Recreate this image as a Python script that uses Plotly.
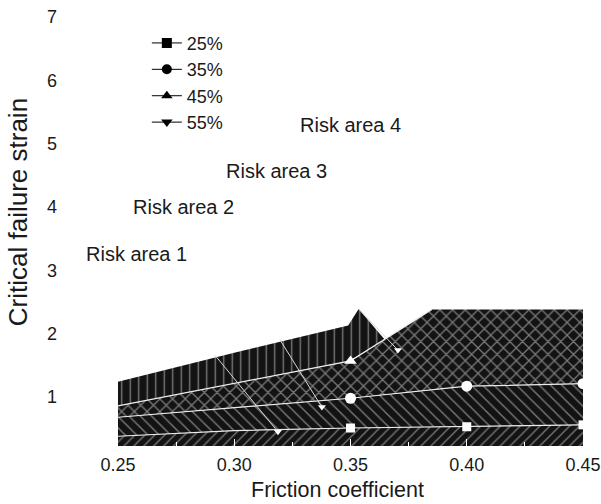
import numpy as np
import plotly.graph_objects as go

# Critical failure strain vs. friction coefficient for four reduction levels
friction = [0.25, 0.30, 0.35, 0.40, 0.45]
strain_25 = [0.38, 0.47, 0.51, 0.53, 0.56]
strain_35 = [0.68, 0.83, 0.98, 1.17, 1.21]
friction_45 = [0.25, 0.30, 0.35, 0.385, 0.40, 0.45]
strain_45 = [0.86, 1.21, 1.57, 2.38, 2.38, 2.38]
friction_55 = [0.25, 0.30, 0.349, 0.3535, 0.3646]
strain_55 = [1.24, 1.70, 2.13, 2.39, 1.91]

# 55% drop segments (start on the upper envelope, end at the marker)
drop55_x = [0.2917, 0.3197, 0.3535]
drop55_y = [1.66, 1.90, 2.39]
mark55_x = [0.3188, 0.3377, 0.3704]
mark55_y = [0.45, 0.84, 1.74]

# friction values where the series markers show
mark25_x = [0.35, 0.40, 0.45]
mark35_x = [0.35, 0.40, 0.45]
mark45_x = [0.35]

series_names = ["25%", "35%", "45%", "55%"]
series_symbols = ["square", "circle", "triangle-up", "triangle-down"]

risk_labels = ["Risk area 1", "Risk area 2", "Risk area 3", "Risk area 4"]
risk_x = [0.258, 0.278, 0.318, 0.350]
risk_y = [3.26, 4.00, 4.57, 5.29]

FONT = "Liberation Sans, Arial, sans-serif"
BG = "#131313"
FG = "#e2e2e2"

fig = go.Figure()

# area under the 25% curve
fig.add_trace(go.Scatter(
    x=friction, y=strain_25, mode="lines", line=dict(width=0),
    fill="tozeroy", fillcolor=BG,
    fillpattern=dict(shape="/", bgcolor=BG, fgcolor=FG, size=7, solidity=0.18),
    showlegend=False, hoverinfo="skip"))
# 25% .. 35%
fig.add_trace(go.Scatter(
    x=friction, y=strain_35, mode="lines", line=dict(width=0),
    fill="tonexty", fillcolor=BG,
    fillpattern=dict(shape="\\", bgcolor=BG, fgcolor=FG, size=8, solidity=0.17),
    showlegend=False, hoverinfo="skip"))
# 35% .. 45%
fig.add_trace(go.Scatter(
    x=friction_45, y=strain_45, mode="lines", line=dict(width=0),
    fill="tonexty", fillcolor=BG,
    fillpattern=dict(shape="x", bgcolor=BG, fgcolor=FG, size=9, solidity=0.26),
    showlegend=False, hoverinfo="skip"))
# 45% .. 55%
lower_55 = np.interp(friction_55, friction_45, strain_45)
poly_x = list(friction_55) + list(friction_55[::-1])
poly_y = list(strain_55) + list(lower_55[::-1])
fig.add_trace(go.Scatter(
    x=poly_x, y=poly_y, mode="lines", line=dict(width=0),
    fill="toself", fillcolor=BG,
    fillpattern=dict(shape="|", bgcolor=BG, fgcolor=FG, size=8.5, solidity=0.16),
    showlegend=False, hoverinfo="skip"))

# boundary lines
line_style = dict(color="#ececec", width=1.2)
for xs, ys in [(friction, strain_25), (friction, strain_35),
               (friction_45[:4], strain_45[:4])]:
    fig.add_trace(go.Scatter(x=xs, y=ys, mode="lines", line=line_style,
                             showlegend=False, hoverinfo="skip"))

# 55% drop segments
seg_x, seg_y = [], []
for x0, y0, x1, y1 in zip(drop55_x, drop55_y, mark55_x, mark55_y):
    seg_x += [x0, x1, None]
    seg_y += [y0, y1, None]
fig.add_trace(go.Scatter(x=seg_x, y=seg_y, mode="lines",
                         line=dict(color="#d8d8d8", width=1),
                         showlegend=False, hoverinfo="skip"))

# white markers
marker_sets = [
    (mark25_x, np.interp(mark25_x, friction, strain_25), "square", 9),
    (mark35_x, np.interp(mark35_x, friction, strain_35), "circle", 11),
    (mark45_x, np.interp(mark45_x, friction_45, strain_45), "triangle-up", 11),
    (mark55_x, mark55_y, "triangle-down", 7),
]
for xs, ys, sym, sz in marker_sets:
    fig.add_trace(go.Scatter(x=xs, y=ys, mode="markers",
                             marker=dict(symbol=sym, size=sz, color="white"),
                             showlegend=False, hoverinfo="skip"))

# legend entries
for name, sym in zip(series_names, series_symbols):
    fig.add_trace(go.Scatter(x=[None], y=[None], mode="lines+markers", name=name,
                             line=dict(color="black", width=1),
                             marker=dict(symbol=sym, size=10, color="black")))

for txt, xv, yv in zip(risk_labels, risk_x, risk_y):
    fig.add_annotation(x=xv, y=yv, text=txt, showarrow=False,
                       font=dict(family=FONT, size=20, color="#1a1a1a"))

fig.add_annotation(x=0.526, y=-0.1026, xref="paper", yref="paper",
                   xanchor="center", yanchor="middle",
                   text="Friction coefficient", showarrow=False,
                   font=dict(family=FONT, size=21.5, color="#1a1a1a"))
fig.add_annotation(x=-0.0752, y=0.545, xref="paper", yref="paper",
                   xanchor="center", yanchor="middle",
                   text="Critical failure strain", showarrow=False, textangle=-90,
                   font=dict(family=FONT, size=26, color="#1a1a1a"))

fig.update_layout(
    width=601, height=504,
    margin=dict(l=58, r=11, t=17, b=58),
    paper_bgcolor="white", plot_bgcolor="white",
    font=dict(family=FONT, size=18, color="#1a1a1a"),
    legend=dict(x=0.167, y=0.982, xanchor="left", yanchor="top",
                traceorder="normal", bgcolor="rgba(0,0,0,0)",
                font=dict(size=18), tracegroupgap=0),
    xaxis=dict(range=[0.2242, 0.453], tickvals=friction, tickformat=".2f",
               automargin=False,
               showgrid=False, zeroline=False, showline=False,
               ticks="inside", ticklen=7, tickcolor="white", tickwidth=1,
               ticklabelstandoff=6,
               minor=dict(dtick=0.025, tick0=0.25, ticks="inside", ticklen=4,
                          tickcolor="white"),
               tickfont=dict(size=18)),
    yaxis=dict(range=[0.226, 7.0], tickvals=[1, 2, 3, 4, 5, 6, 7],
               automargin=False,
               showgrid=False, zeroline=False, showline=False, ticks="",
               tickfont=dict(size=18)),
)

fig.write_html("out.html")
